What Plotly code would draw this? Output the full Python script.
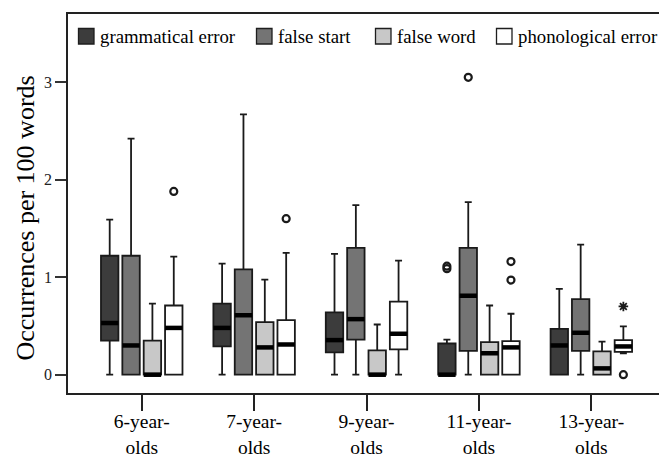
import plotly.graph_objects as go

# ---------------- data ----------------
categories = ["6-year-olds", "7-year-olds", "9-year-olds", "11-year-olds", "13-year-olds"]
tick_labels = ["6-year-<br>olds", "7-year-<br>olds", "9-year-<br>olds", "11-year-<br>olds", "13-year-<br>olds"]
series_names = ["grammatical error", "false start", "false word", "phonological error"]

gram_upper = [1.59, 1.14, 1.24, 0.36, 0.88]
gram_q3 = [1.22, 0.73, 0.64, 0.32, 0.47]
gram_median = [0.53, 0.48, 0.355, 0.0, 0.30]
gram_q1 = [0.35, 0.29, 0.23, 0.0, 0.0]
gram_lower = [0.0, 0.0, 0.0, 0.0, 0.0]

fs_upper = [2.42, 2.67, 1.74, 1.77, 1.335]
fs_q3 = [1.22, 1.08, 1.30, 1.30, 0.775]
fs_median = [0.30, 0.61, 0.57, 0.81, 0.43]
fs_q1 = [0.0, 0.0, 0.36, 0.245, 0.245]
fs_lower = [0.0, 0.0, 0.0, 0.0, 0.0]

fw_upper = [0.73, 0.975, 0.515, 0.71, 0.34]
fw_q3 = [0.35, 0.54, 0.25, 0.335, 0.24]
fw_median = [0.0, 0.28, 0.0, 0.22, 0.065]
fw_q1 = [0.0, 0.0, 0.0, 0.0, 0.0]
fw_lower = [0.0, 0.0, 0.0, 0.0, 0.0]

ph_upper = [1.21, 1.25, 1.17, 0.625, 0.495]
ph_q3 = [0.71, 0.56, 0.75, 0.345, 0.355]
ph_median = [0.48, 0.31, 0.42, 0.28, 0.29]
ph_q1 = [0.0, 0.0, 0.26, 0.0, 0.235]
ph_lower = [0.0, 0.0, 0.0, 0.0, 0.22]

# outliers (circles): group index, series index, value
outlier_group = [0, 1, 3, 3, 3, 3, 3, 4]
outlier_series = [3, 3, 0, 0, 1, 3, 3, 3]
outlier_value = [1.88, 1.60, 1.087, 1.113, 3.05, 1.16, 0.97, 0.0]
# extreme values (asterisks)
extreme_group = [4]
extreme_series = [3]
extreme_value = [0.70]

fill_colors = ["#3c3c3c", "#747474", "#c8c8c8", "#ffffff"]

# ---------------- layout helpers ----------------
offsets = [-0.285, -0.095, 0.095, 0.285]
box_w = 0.155
FONT = "Liberation Serif"

stats = [
    (gram_lower, gram_q1, gram_median, gram_q3, gram_upper),
    (fs_lower, fs_q1, fs_median, fs_q3, fs_upper),
    (fw_lower, fw_q1, fw_median, fw_q3, fw_upper),
    (ph_lower, ph_q1, ph_median, ph_q3, ph_upper),
]

fig = go.Figure()
for s, (lo, q1, med, q3, up) in enumerate(stats):
    xs = [g + offsets[s] for g in range(len(categories))]
    fig.add_trace(go.Box(
        x=xs, lowerfence=lo, q1=q1, median=med, q3=q3, upperfence=up,
        width=box_w, whiskerwidth=0.4, boxpoints=False,
        fillcolor=fill_colors[s], line=dict(color="#1a1a1a", width=1.8),
        name=series_names[s], showlegend=False,
    ))
    # thick black median bars
    mx, my = [], []
    for x, m in zip(xs, med):
        mx += [x - box_w / 2, x + box_w / 2, None]
        my += [m, m, None]
    fig.add_trace(go.Scatter(x=mx, y=my, mode="lines", line=dict(color="black", width=4.5),
                             showlegend=False, hoverinfo="skip"))

fig.add_trace(go.Scatter(
    x=[g + offsets[s] for g, s in zip(outlier_group, outlier_series)], y=outlier_value,
    mode="markers", marker=dict(symbol="circle-open", size=7, color="#1a1a1a", line=dict(width=2.2)),
    showlegend=False))
fig.add_trace(go.Scatter(
    x=[g + offsets[s] for g, s in zip(extreme_group, extreme_series)], y=extreme_value,
    mode="markers", marker=dict(symbol="asterisk-open", size=8, color="#1a1a1a", line=dict(width=1.8)),
    showlegend=False))

# ---------------- manual legend ----------------
L, R, T, B = 68, 659, 14, 393
def px(xp):
    return (xp - L) / (R - L)
def py(yp):
    return (B - yp) / (B - T)

legend_sq_left = [78.5, 256.5, 375.5, 496.5]
sq = 15.5
sq_top, sq_bot = 28.5, 44
for s, xl in enumerate(legend_sq_left):
    fig.add_shape(type="rect", xref="paper", yref="paper",
                  x0=px(xl), x1=px(xl + sq), y0=py(sq_bot), y1=py(sq_top),
                  fillcolor=fill_colors[s], line=dict(color="#1e1e1e", width=1.3))
    fig.add_annotation(xref="paper", yref="paper", x=px(xl + sq + 3.5), y=py((sq_top + sq_bot) / 2),
                       text=series_names[s], showarrow=False, xanchor="left", yanchor="middle",
                       font=dict(family=FONT, size=18.8, color="#000"))

fig.add_annotation(xref="paper", yref="paper", x=px(25), y=py(218.5), text="Occurrences per 100 words",
                   textangle=-90, showarrow=False, xanchor="center", yanchor="middle",
                   font=dict(family=FONT, size=26, color="#000"))

fig.update_layout(
    width=659, height=458,
    margin=dict(l=L, r=0, t=T, b=458 - B),
    paper_bgcolor="white", plot_bgcolor="white",
    font=dict(family=FONT, color="#000"),
    xaxis=dict(range=[-0.656, 4.602], tickmode="array", tickvals=list(range(len(categories))),
               ticktext=tick_labels, ticks="outside", ticklen=16, tickwidth=1.6, tickcolor="#222",
               ticklabelstandoff=-6,
               showline=True, linecolor="#222", linewidth=1.8, mirror=True, automargin=False,
               showgrid=False, zeroline=False, tickfont=dict(family=FONT, size=19.5, color="#000")),
    yaxis=dict(range=[-0.1875, 3.699], tickvals=[0, 1, 2, 3], ticks="outside", ticklen=11,
               tickwidth=1.5, tickcolor="#333", showline=True, linecolor="#222", linewidth=1.8,
               automargin=False,
               showgrid=False, zeroline=False, tickfont=dict(family=FONT, size=16, color="#222")),
)

fig.write_html("out.html", config={"displayModeBar": False},
               post_script="document.body.style.margin='0px';document.body.style.overflow='hidden';")
